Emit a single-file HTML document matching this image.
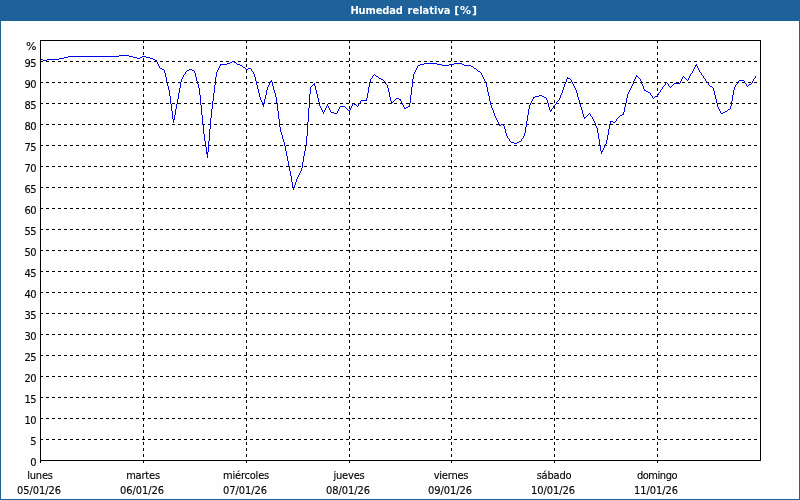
<!DOCTYPE html>
<html lang="es"><head><meta charset="utf-8"><title>Humedad relativa [%]</title>
<style>
html,body{margin:0;padding:0;background:#fff;}
body{width:800px;height:500px;overflow:hidden;position:relative;font-family:"DejaVu Sans Condensed","Liberation Sans",sans-serif;font-size:11px;color:#000;}
#frame{position:absolute;left:0;top:0;width:798px;height:478px;border:1px solid #1d6195;border-top:21px solid #1d6195;background:#fdfefd;}
#title{z-index:2;position:absolute;left:0;top:0;width:800px;height:21px;line-height:21px;color:#fff;font-weight:bold;font-size:11px;white-space:nowrap;}
#title span{position:absolute;top:0;}
#t1{left:350.4px;letter-spacing:-0.12px;}
#t2{left:407.6px;letter-spacing:0;}
#t3{left:454.2px;font-family:"DejaVu Sans","Liberation Sans",sans-serif;letter-spacing:0.9px;}
svg{position:absolute;left:0;top:0;}
.yl,.xl{-webkit-text-stroke:0.12px #000;}
.yl{letter-spacing:-0.5px;}
.yl{position:absolute;left:0;width:36px;text-align:right;height:13px;line-height:13px;white-space:nowrap;}
.xl{position:absolute;width:100px;text-align:center;height:13px;line-height:13px;white-space:nowrap;}
.dn{letter-spacing:-0.2px;}
.dt{letter-spacing:-0.05px;}
</style></head><body>
<div id="frame"></div>
<div id="title"><span id="t1">Humedad </span><span id="t2">relativa </span><span id="t3">[%]</span></div>

<svg width="800" height="500" viewBox="0 0 800 500" shape-rendering="crispEdges">
<defs><pattern id="dth" x="0" y="0" width="4" height="4" patternUnits="userSpaceOnUse"><rect x="2" y="3" width="1" height="1" fill="#2164ac"/><rect x="0" y="1" width="1" height="1" fill="#2164ac"/></pattern></defs>
<rect x="0" y="0" width="800" height="21" fill="url(#dth)"/>
<line x1="40" y1="439.5" x2="760" y2="439.5" stroke="#000" stroke-width="1" stroke-dasharray="3 3"/>
<line x1="40" y1="418.5" x2="760" y2="418.5" stroke="#000" stroke-width="1" stroke-dasharray="3 3"/>
<line x1="40" y1="397.5" x2="760" y2="397.5" stroke="#000" stroke-width="1" stroke-dasharray="3 3"/>
<line x1="40" y1="376.5" x2="760" y2="376.5" stroke="#000" stroke-width="1" stroke-dasharray="3 3"/>
<line x1="40" y1="355.5" x2="760" y2="355.5" stroke="#000" stroke-width="1" stroke-dasharray="3 3"/>
<line x1="40" y1="334.5" x2="760" y2="334.5" stroke="#000" stroke-width="1" stroke-dasharray="3 3"/>
<line x1="40" y1="313.5" x2="760" y2="313.5" stroke="#000" stroke-width="1" stroke-dasharray="3 3"/>
<line x1="40" y1="292.5" x2="760" y2="292.5" stroke="#000" stroke-width="1" stroke-dasharray="3 3"/>
<line x1="40" y1="271.5" x2="760" y2="271.5" stroke="#000" stroke-width="1" stroke-dasharray="3 3"/>
<line x1="40" y1="250.5" x2="760" y2="250.5" stroke="#000" stroke-width="1" stroke-dasharray="3 3"/>
<line x1="40" y1="229.5" x2="760" y2="229.5" stroke="#000" stroke-width="1" stroke-dasharray="3 3"/>
<line x1="40" y1="208.5" x2="760" y2="208.5" stroke="#000" stroke-width="1" stroke-dasharray="3 3"/>
<line x1="40" y1="187.5" x2="760" y2="187.5" stroke="#000" stroke-width="1" stroke-dasharray="3 3"/>
<line x1="40" y1="166.5" x2="760" y2="166.5" stroke="#000" stroke-width="1" stroke-dasharray="3 3"/>
<line x1="40" y1="145.5" x2="760" y2="145.5" stroke="#000" stroke-width="1" stroke-dasharray="3 3"/>
<line x1="40" y1="124.5" x2="760" y2="124.5" stroke="#000" stroke-width="1" stroke-dasharray="3 3"/>
<line x1="40" y1="103.5" x2="760" y2="103.5" stroke="#000" stroke-width="1" stroke-dasharray="3 3"/>
<line x1="40" y1="82.5" x2="760" y2="82.5" stroke="#000" stroke-width="1" stroke-dasharray="3 3"/>
<line x1="40" y1="61.5" x2="760" y2="61.5" stroke="#000" stroke-width="1" stroke-dasharray="3 3"/>
<line x1="40.5" y1="460" x2="40.5" y2="463" stroke="#000" stroke-width="1"/>
<line x1="143.5" y1="40" x2="143.5" y2="463" stroke="#000" stroke-width="1" stroke-dasharray="3 3"/>
<line x1="246.5" y1="40" x2="246.5" y2="463" stroke="#000" stroke-width="1" stroke-dasharray="3 3"/>
<line x1="349.5" y1="40" x2="349.5" y2="463" stroke="#000" stroke-width="1" stroke-dasharray="3 3"/>
<line x1="451.5" y1="40" x2="451.5" y2="463" stroke="#000" stroke-width="1" stroke-dasharray="3 3"/>
<line x1="554.5" y1="40" x2="554.5" y2="463" stroke="#000" stroke-width="1" stroke-dasharray="3 3"/>
<line x1="657.5" y1="40" x2="657.5" y2="463" stroke="#000" stroke-width="1" stroke-dasharray="3 3"/>
<path d="M40 59h3v1h-3zM43 60h4v1h-4zM47 59h12v1h-12zM59 58h5v1h-5zM64 57h4v1h-4zM68 56h51v1h-51zM119 55h10v1h-10zM129 56h4v1h-4zM133 57h4v1h-4zM137 58h3v1h-3zM140 57h2v1h-2zM142 56h4v1h-4zM146 57h4v1h-4zM150 58h3v1h-3zM153 59h2v1h-2zM155 60h1v1h-1zM156 60h1v2h-1zM157 62h1v2h-1zM158 64h1v2h-1zM159 66h1v2h-1zM160 68h2v1h-2zM162 69h2v1h-2zM164 70h1v3h-1zM165 73h1v4h-1zM166 77h1v5h-1zM167 82h1v4h-1zM168 86h1v4h-1zM169 90h1v6h-1zM170 96h1v8h-1zM171 104h1v7h-1zM172 111h1v8h-1zM173 119h1v4h-1zM174 115h1v5h-1zM175 109h1v6h-1zM176 104h1v5h-1zM177 99h1v5h-1zM178 93h1v6h-1zM179 88h1v5h-1zM180 82h1v6h-1zM181 79h1v3h-1zM182 77h1v2h-1zM183 75h1v2h-1zM184 74h1v1h-1zM185 72h1v2h-1zM186 71h1v1h-1zM187 70h2v1h-2zM189 69h3v1h-3zM192 70h2v1h-2zM194 71h1v2h-1zM195 73h1v4h-1zM196 77h1v4h-1zM197 81h1v3h-1zM198 84h1v4h-1zM199 88h1v7h-1zM200 95h1v10h-1zM201 105h1v10h-1zM202 115h1v10h-1zM203 125h1v9h-1zM204 134h1v7h-1zM205 141h1v6h-1zM206 147h1v7h-1zM207 152h1v6h-1zM208 141h1v11h-1zM209 129h1v12h-1zM210 118h1v11h-1zM211 109h1v9h-1zM212 101h1v8h-1zM213 93h1v8h-1zM214 85h1v8h-1zM215 77h1v8h-1zM216 72h1v5h-1zM217 70h1v2h-1zM218 68h1v2h-1zM219 66h1v2h-1zM220 64h1v2h-1zM221 64h6v1h-6zM227 63h3v1h-3zM230 62h2v1h-2zM232 61h2v1h-2zM234 62h2v1h-2zM236 63h1v1h-1zM237 64h3v1h-3zM240 65h2v1h-2zM242 66h1v1h-1zM243 67h2v1h-2zM245 68h1v1h-1zM246 69h2v1h-2zM248 68h3v1h-3zM251 69h1v2h-1zM252 71h1v1h-1zM253 72h1v2h-1zM254 74h1v3h-1zM255 77h1v4h-1zM256 81h1v4h-1zM257 85h1v4h-1zM258 89h1v4h-1zM259 93h1v4h-1zM260 97h1v3h-1zM261 100h1v2h-1zM262 102h1v3h-1zM263 104h1v3h-1zM264 99h1v5h-1zM265 95h1v4h-1zM266 90h1v5h-1zM267 87h1v3h-1zM268 85h1v2h-1zM269 83h1v2h-1zM270 81h1v2h-1zM271 80h1v2h-1zM272 82h1v4h-1zM273 86h1v4h-1zM274 90h1v3h-1zM275 93h1v4h-1zM276 97h1v6h-1zM277 103h1v8h-1zM278 111h1v8h-1zM279 119h1v8h-1zM280 127h1v5h-1zM281 132h1v3h-1zM282 135h1v4h-1zM283 139h1v3h-1zM284 142h1v4h-1zM285 146h1v5h-1zM286 151h1v5h-1zM287 156h1v5h-1zM288 161h1v5h-1zM289 166h1v5h-1zM290 171h1v5h-1zM291 176h1v6h-1zM292 182h1v5h-1zM293 187h1v3h-1zM294 185h1v3h-1zM295 182h1v3h-1zM296 179h1v3h-1zM297 177h1v2h-1zM298 175h1v2h-1zM299 173h1v2h-1zM300 171h1v2h-1zM301 168h1v3h-1zM302 162h1v6h-1zM303 156h1v6h-1zM304 151h1v5h-1zM305 145h1v6h-1zM306 136h1v9h-1zM307 122h1v14h-1zM308 108h1v14h-1zM309 94h1v14h-1zM310 87h1v7h-1zM311 86h1v1h-1zM312 85h1v1h-1zM313 84h1v1h-1zM314 83h1v3h-1zM315 86h1v4h-1zM316 90h1v4h-1zM317 94h1v4h-1zM318 98h1v4h-1zM319 102h1v4h-1zM320 106h1v2h-1zM321 108h1v2h-1zM322 110h1v2h-1zM323 112h1v2h-1zM324 110h1v2h-1zM325 108h1v2h-1zM326 106h1v2h-1zM327 104h1v2h-1zM328 106h1v2h-1zM329 108h1v2h-1zM330 110h1v2h-1zM331 112h3v1h-3zM334 113h3v1h-3zM337 111h1v2h-1zM338 109h1v2h-1zM339 107h1v2h-1zM340 106h5v1h-5zM345 107h1v1h-1zM346 108h1v1h-1zM347 109h1v1h-1zM348 110h1v1h-1zM349 110h1v2h-1zM350 108h1v2h-1zM351 106h1v2h-1zM352 104h1v2h-1zM353 103h1v1h-1zM354 104h2v1h-2zM356 105h1v1h-1zM357 106h1v1h-1zM358 104h1v2h-1zM359 103h1v1h-1zM360 101h1v2h-1zM361 100h5v1h-5zM366 98h1v3h-1zM367 93h1v5h-1zM368 87h1v6h-1zM369 82h1v5h-1zM370 79h1v3h-1zM371 78h1v1h-1zM372 76h1v2h-1zM373 75h1v1h-1zM374 74h1v1h-1zM375 75h1v1h-1zM376 76h2v1h-2zM378 77h1v1h-1zM379 78h2v1h-2zM381 79h2v1h-2zM383 80h1v1h-1zM384 81h1v1h-1zM385 82h1v2h-1zM386 84h1v1h-1zM387 85h1v3h-1zM388 88h1v4h-1zM389 92h1v5h-1zM390 97h1v4h-1zM391 101h1v3h-1zM392 102h1v1h-1zM393 101h1v1h-1zM394 100h1v1h-1zM395 99h1v1h-1zM396 98h3v1h-3zM399 99h1v1h-1zM400 99h1v2h-1zM401 101h1v2h-1zM402 103h1v2h-1zM403 105h1v2h-1zM404 107h1v2h-1zM405 108h1v1h-1zM406 107h2v1h-2zM408 106h1v1h-1zM409 103h1v4h-1zM410 95h1v8h-1zM411 87h1v8h-1zM412 79h1v8h-1zM413 74h1v5h-1zM414 72h1v2h-1zM415 70h1v2h-1zM416 68h1v2h-1zM417 66h1v2h-1zM418 65h2v1h-2zM420 64h4v1h-4zM424 63h13v1h-13zM437 64h5v1h-5zM442 65h7v1h-7zM449 64h5v1h-5zM454 63h8v1h-8zM462 64h2v1h-2zM464 65h7v1h-7zM471 66h2v1h-2zM473 67h1v1h-1zM474 68h2v1h-2zM476 69h1v1h-1zM477 70h1v1h-1zM478 71h2v1h-2zM480 72h1v1h-1zM481 73h1v2h-1zM482 75h1v2h-1zM483 77h1v2h-1zM484 79h1v2h-1zM485 81h1v2h-1zM486 83h1v4h-1zM487 87h1v5h-1zM488 92h1v4h-1zM489 96h1v5h-1zM490 101h1v4h-1zM491 105h1v3h-1zM492 108h1v2h-1zM493 110h1v3h-1zM494 113h1v3h-1zM495 116h1v2h-1zM496 118h1v2h-1zM497 120h1v2h-1zM498 122h1v2h-1zM499 124h1v2h-1zM500 125h1v1h-1zM501 124h2v1h-2zM503 124h1v2h-1zM504 126h1v3h-1zM505 129h1v4h-1zM506 133h1v3h-1zM507 136h1v2h-1zM508 138h1v1h-1zM509 139h1v2h-1zM510 141h1v1h-1zM511 142h3v1h-3zM514 143h3v1h-3zM517 142h2v1h-2zM519 141h2v1h-2zM521 139h1v2h-1zM522 138h1v1h-1zM523 136h1v2h-1zM524 133h1v3h-1zM525 127h1v6h-1zM526 121h1v6h-1zM527 115h1v6h-1zM528 109h1v6h-1zM529 105h1v4h-1zM530 103h1v2h-1zM531 101h1v2h-1zM532 99h1v2h-1zM533 97h1v2h-1zM534 97h1v1h-1zM535 96h4v1h-4zM539 95h3v1h-3zM542 96h2v1h-2zM544 97h2v1h-2zM546 98h1v2h-1zM547 100h1v3h-1zM548 103h1v4h-1zM549 107h1v3h-1zM550 110h1v2h-1zM551 109h1v2h-1zM552 108h1v1h-1zM553 106h1v2h-1zM554 105h1v1h-1zM555 104h1v1h-1zM556 102h1v2h-1zM557 101h1v1h-1zM558 100h1v1h-1zM559 98h1v2h-1zM560 95h1v3h-1zM561 93h1v2h-1zM562 90h1v3h-1zM563 87h1v3h-1zM564 84h1v3h-1zM565 82h1v2h-1zM566 79h1v3h-1zM567 77h1v2h-1zM568 78h2v1h-2zM570 79h1v1h-1zM571 80h1v2h-1zM572 82h1v2h-1zM573 84h1v2h-1zM574 86h1v2h-1zM575 88h1v2h-1zM576 90h1v3h-1zM577 93h1v4h-1zM578 97h1v3h-1zM579 100h1v4h-1zM580 104h1v3h-1zM581 107h1v3h-1zM582 110h1v4h-1zM583 114h1v3h-1zM584 117h1v2h-1zM585 117h1v1h-1zM586 116h1v1h-1zM587 115h1v1h-1zM588 114h1v1h-1zM589 113h1v1h-1zM590 114h1v2h-1zM591 116h1v1h-1zM592 117h1v2h-1zM593 119h1v2h-1zM594 121h1v2h-1zM595 123h1v3h-1zM596 126h1v2h-1zM597 128h1v5h-1zM598 133h1v6h-1zM599 139h1v6h-1zM600 145h1v6h-1zM601 151h1v3h-1zM602 150h1v2h-1zM603 148h1v2h-1zM604 146h1v2h-1zM605 144h1v2h-1zM606 140h1v4h-1zM607 135h1v5h-1zM608 129h1v6h-1zM609 124h1v5h-1zM610 121h1v3h-1zM611 121h2v1h-2zM613 122h2v1h-2zM615 121h1v1h-1zM616 119h1v2h-1zM617 118h1v1h-1zM618 117h1v1h-1zM619 116h1v1h-1zM620 115h2v1h-2zM622 114h1v1h-1zM623 112h1v3h-1zM624 107h1v5h-1zM625 103h1v4h-1zM626 98h1v5h-1zM627 94h1v4h-1zM628 92h1v2h-1zM629 90h1v2h-1zM630 88h1v2h-1zM631 86h1v2h-1zM632 84h1v2h-1zM633 81h1v3h-1zM634 79h1v2h-1zM635 77h1v2h-1zM636 75h1v2h-1zM637 76h1v1h-1zM638 77h1v1h-1zM639 78h1v1h-1zM640 79h1v2h-1zM641 81h1v3h-1zM642 84h1v2h-1zM643 86h1v3h-1zM644 89h1v2h-1zM645 90h1v1h-1zM646 91h2v1h-2zM648 92h2v1h-2zM650 93h1v2h-1zM651 95h1v1h-1zM652 96h1v2h-1zM653 98h1v1h-1zM654 97h1v1h-1zM655 96h2v1h-2zM657 95h1v1h-1zM658 93h1v2h-1zM659 92h1v1h-1zM660 90h1v2h-1zM661 89h1v1h-1zM662 87h1v2h-1zM663 86h1v1h-1zM664 85h1v1h-1zM665 83h1v2h-1zM666 82h1v1h-1zM667 83h1v1h-1zM668 84h1v2h-1zM669 86h1v1h-1zM670 87h1v1h-1zM671 86h1v1h-1zM672 85h1v1h-1zM673 84h1v1h-1zM674 83h6v1h-6zM680 81h1v2h-1zM681 79h1v2h-1zM682 77h1v2h-1zM683 76h1v1h-1zM684 77h1v1h-1zM685 78h1v1h-1zM686 79h1v1h-1zM687 80h1v1h-1zM688 78h1v2h-1zM689 76h1v2h-1zM690 74h1v2h-1zM691 73h1v1h-1zM692 71h1v2h-1zM693 69h1v2h-1zM694 67h1v2h-1zM695 65h1v2h-1zM696 64h1v2h-1zM697 66h1v2h-1zM698 68h1v2h-1zM699 70h1v2h-1zM700 72h1v1h-1zM701 73h1v2h-1zM702 75h1v1h-1zM703 76h1v2h-1zM704 78h1v1h-1zM705 79h1v2h-1zM706 81h1v1h-1zM707 82h1v1h-1zM708 83h1v2h-1zM709 85h1v1h-1zM710 86h2v1h-2zM712 87h1v1h-1zM713 88h1v3h-1zM714 91h1v4h-1zM715 95h1v4h-1zM716 99h1v4h-1zM717 103h1v4h-1zM718 107h1v2h-1zM719 109h1v2h-1zM720 111h1v2h-1zM721 113h2v1h-2zM723 112h2v1h-2zM725 111h2v1h-2zM727 110h1v1h-1zM728 109h2v1h-2zM730 106h1v3h-1zM731 101h1v5h-1zM732 95h1v6h-1zM733 90h1v5h-1zM734 87h1v3h-1zM735 85h1v2h-1zM736 84h1v1h-1zM737 83h1v1h-1zM738 81h1v2h-1zM739 80h5v1h-5zM744 81h1v2h-1zM745 83h1v1h-1zM746 84h1v2h-1zM747 86h1v1h-1zM748 85h1v1h-1zM749 84h2v1h-2zM751 83h1v1h-1zM752 81h1v2h-1zM753 79h1v2h-1zM754 78h1v1h-1zM755 76h1v2h-1z" fill="#0000e8" stroke="none" shape-rendering="crispEdges"/>
<rect x="40.5" y="40.5" width="720" height="420" fill="none" stroke="#000" stroke-width="1"/>
</svg>
<div class="yl" style="top:40px;font-family:'DejaVu Sans',sans-serif">%</div>
<div class="yl" style="top:456px">0</div>
<div class="yl" style="top:435px">5</div>
<div class="yl" style="top:414px">10</div>
<div class="yl" style="top:393px">15</div>
<div class="yl" style="top:372px">20</div>
<div class="yl" style="top:351px">25</div>
<div class="yl" style="top:330px">30</div>
<div class="yl" style="top:309px">35</div>
<div class="yl" style="top:288px">40</div>
<div class="yl" style="top:267px">45</div>
<div class="yl" style="top:246px">50</div>
<div class="yl" style="top:225px">55</div>
<div class="yl" style="top:204px">60</div>
<div class="yl" style="top:183px">65</div>
<div class="yl" style="top:162px">70</div>
<div class="yl" style="top:141px">75</div>
<div class="yl" style="top:120px">80</div>
<div class="yl" style="top:99px">85</div>
<div class="yl" style="top:78px">90</div>
<div class="yl" style="top:57px">95</div>
<div class="xl dn" style="left:-10px;top:469px">lunes</div>
<div class="xl dt" style="left:-11px;top:484px">05/01/26</div>
<div class="xl dn" style="left:93px;top:469px">martes</div>
<div class="xl dt" style="left:92px;top:484px">06/01/26</div>
<div class="xl dn" style="left:196px;top:469px">miércoles</div>
<div class="xl dt" style="left:195px;top:484px">07/01/26</div>
<div class="xl dn" style="left:299px;top:469px">jueves</div>
<div class="xl dt" style="left:298px;top:484px">08/01/26</div>
<div class="xl dn" style="left:401px;top:469px">viernes</div>
<div class="xl dt" style="left:400px;top:484px">09/01/26</div>
<div class="xl dn" style="left:504px;top:469px">sábado</div>
<div class="xl dt" style="left:503px;top:484px">10/01/26</div>
<div class="xl dn" style="left:607px;top:469px;letter-spacing:-0.45px">domingo</div>
<div class="xl dt" style="left:606px;top:484px">11/01/26</div>
</body></html>
